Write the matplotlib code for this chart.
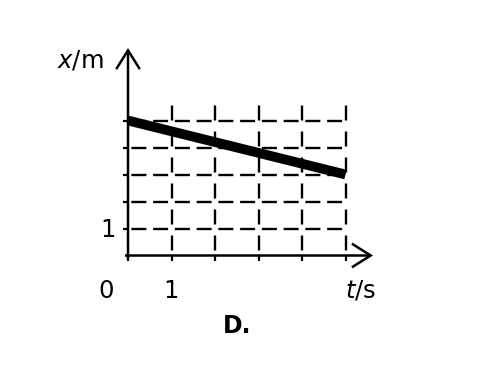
import matplotlib
matplotlib.use("Agg")
import matplotlib.pyplot as plt
from matplotlib.patches import FancyArrowPatch

plt.rcParams['font.family'] = ['DejaVu Sans']
plt.rcParams['lines.scale_dashes'] = False
plt.rcParams['mathtext.fontset'] = 'custom'
plt.rcParams['mathtext.rm'] = 'DejaVu Sans'
plt.rcParams['mathtext.it'] = 'DejaVu Sans:italic'
plt.rcParams['mathtext.bf'] = 'DejaVu Sans:bold'

# data
t_vals = [0, 5]
x_vals = [5, 3]
x_grid = [1, 2, 3, 4, 5]
y_grid = [1, 2, 3, 4, 5]
x_ticklabels = {0: "0", 1: "1"}
y_ticklabels = {1: "1"}

W, H = 496, 376
ox, oy = 128.0, 255.5   # pixel of origin
sx, sy = 43.5, 27.0     # pixels per unit

fig = plt.figure(figsize=(W / 100, H / 100), dpi=100)
ax = fig.add_axes([0, 0, 1, 1])
ax.set_xlim(-ox / sx, (W - ox) / sx)
ax.set_ylim((oy - H) / sy, oy / sy)
ax.axis('off')

PT = 0.72  # points per pixel

def px(xp):
    return (xp - ox) / sx
def py(yp):
    return (oy - yp) / sy

# dashed grid: horizontal
h_on, h_off = 15 * PT, 6.75 * PT
ax.hlines(y_grid, 0, max(x_grid), colors='black', linewidth=1.7,
          linestyles=[(h_on + h_off / 2, (h_on, h_off))], zorder=2)
# dashed grid: vertical
v_top = 5.63
v_on, v_off = 15 * PT, 11 * PT
ax.vlines(x_grid, 0, v_top, colors='black', linewidth=1.7,
          linestyles=[(v_on + v_off / 2, (v_on, v_off))], zorder=2)

# ticks
tick_px = 5
for xv in [0] + x_grid:
    ax.plot([xv, xv], [0, -tick_px / sy], color='black', lw=1.6, solid_capstyle='butt', zorder=3)
for yv in y_grid:
    ax.plot([-tick_px / sx, 0], [yv, yv], color='black', lw=1.6, solid_capstyle='butt', zorder=3)

# axes with arrows
axis_lw = 1.8
x_end = px(373)
y_end = py(48)
arr_style = "->,head_length=%f,head_width=%f" % (13.5, 8.5)
ax.add_patch(FancyArrowPatch((px(125), 0), (x_end, 0), arrowstyle=arr_style,
                             mutation_scale=1, lw=axis_lw, color='black', zorder=3,
                             shrinkA=0, shrinkB=0, joinstyle='miter', capstyle='butt'))
ax.add_patch(FancyArrowPatch((0, py(258.5)), (0, y_end), arrowstyle=arr_style,
                             mutation_scale=1, lw=axis_lw, color='black', zorder=3,
                             shrinkA=0, shrinkB=0, joinstyle='miter', capstyle='butt'))

# the data line
ax.plot(t_vals, x_vals, color='black', lw=7.0, solid_capstyle='butt', zorder=4)

fs = 17.5

# tick labels
ax.text(px(106.5), py(298), x_ticklabels[0], fontsize=fs, ha='center', va='baseline')
ax.text(1, py(298), x_ticklabels[1], fontsize=fs, ha='center', va='baseline')
ax.text(px(108), py(237), y_ticklabels[1], fontsize=fs, ha='center', va='baseline')

# axis labels
ax.text(px(104), py(67), r"$\mathit{x}$/m", fontsize=fs, ha='right', va='baseline')
ax.text(px(376), py(298), r"$\mathit{t}$/s", fontsize=fs, ha='right', va='baseline')

# caption
ax.text(px(237), py(333), "D.", fontsize=17, fontweight='bold', ha='center', va='baseline')

fig.savefig("out.png", dpi=100)
